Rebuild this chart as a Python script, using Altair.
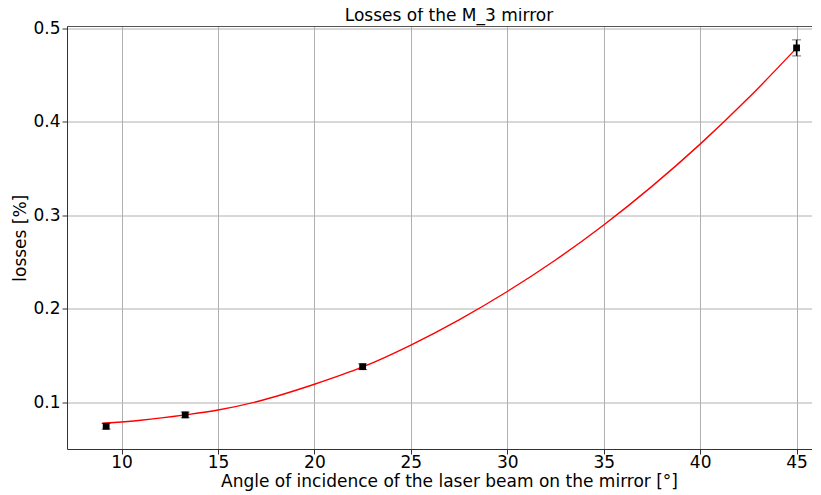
import altair as alt
import pandas as pd

TITLE = "Losses of the M_3 mirror"

# measured points (angle in degrees, losses in %, error)
pt_x = [9.2, 13.3, 22.5, 45.0]
pt_y = [0.0740, 0.0862, 0.1378, 0.4790]
pt_err = [0.003, 0.003, 0.003, 0.0086]

# fitted curve
fit_x = [9.0, 11.0, 13.3, 15.0, 17.0, 20.0, 22.5, 25.0, 27.5, 30.0, 32.5, 35.0, 37.5, 40.0, 42.5, 45.0]
fit_y = [0.0772, 0.0805, 0.0862, 0.0914, 0.1003, 0.1190, 0.1375, 0.1610, 0.1880, 0.2183,
         0.2520, 0.2895, 0.3308, 0.3760, 0.4253, 0.4788]

x_ticks = [10, 15, 20, 25, 30, 35, 40, 45]
y_ticks = [0.1, 0.2, 0.3, 0.4, 0.5]

W, H = 745, 422.5
FONT = "DejaVu Sans"

pts = pd.DataFrame({"x": pt_x, "y": pt_y, "err": pt_err})
pts["lo"] = pts["y"] - pts["err"]
pts["hi"] = pts["y"] + pts["err"]
fit = pd.DataFrame({"x": fit_x, "y": fit_y})

xs = alt.Scale(domain=[7.17, 45.80], nice=False, zero=False)
ys = alt.Scale(domain=[0.0497, 0.5019], nice=False, zero=False)

xaxis = alt.Axis(values=x_ticks, format="d", labelPadding=0, titlePadding=3, titleX=382,
                 title="Angle of incidence of the laser beam on the mirror [°]")
yaxis = alt.Axis(values=y_ticks, format=".1f", labelPadding=2, titlePadding=3, title="losses [%]")

curve = alt.Chart(fit).mark_line(color="#ff0000", strokeWidth=1.4, interpolate="monotone").encode(
    x=alt.X("x:Q", scale=xs, axis=xaxis),
    y=alt.Y("y:Q", scale=ys, axis=yaxis),
)

bars = alt.Chart(pts).mark_rule(color="black", strokeWidth=1.5).encode(
    x=alt.X("x:Q", scale=xs), y=alt.Y("lo:Q", scale=ys), y2="hi:Q"
)
cap_hi = alt.Chart(pts).mark_tick(color="#333333", orient="horizontal", size=9, thickness=1).encode(
    x=alt.X("x:Q", scale=xs), y=alt.Y("hi:Q", scale=ys)
)
cap_lo = alt.Chart(pts).mark_tick(color="#333333", orient="horizontal", size=9, thickness=1).encode(
    x=alt.X("x:Q", scale=xs), y=alt.Y("lo:Q", scale=ys)
)
squares = alt.Chart(pts).mark_square(color="black", opacity=1, size=46).encode(
    x=alt.X("x:Q", scale=xs), y=alt.Y("y:Q", scale=ys)
)
top_spine = alt.Chart(pts).mark_rule(color="#555555", strokeWidth=1).encode(
    x=alt.value(0), x2=alt.value(W), y=alt.value(0)
)
title_mark = alt.Chart(pd.DataFrame({"t": [TITLE]})).mark_text(
    font=FONT, fontSize=17, color="black", align="center", baseline="alphabetic"
).encode(text="t:N", x=alt.value(W / 2 + 9.5), y=alt.value(-5.5))

chart = alt.layer(curve, bars, cap_hi, cap_lo, squares, top_spine, title_mark).properties(
    width=W, height=H,
    autosize=alt.AutoSizeParams(type="none"),
    padding={"left": 59, "top": 18.5, "right": 0, "bottom": 46},
).configure_view(stroke=None).configure_axis(
    labelFont=FONT, titleFont=FONT, labelFontSize=17, titleFontSize=17,
    labelColor="black", titleColor="black", titleFontWeight="normal",
    gridColor="#b0b0b0", gridWidth=1, domainColor="#333333", domainWidth=1,
    tickColor="#333333", tickSize=5,
)

chart.save("out.html", embed_options={"renderer": "svg", "actions": False})
